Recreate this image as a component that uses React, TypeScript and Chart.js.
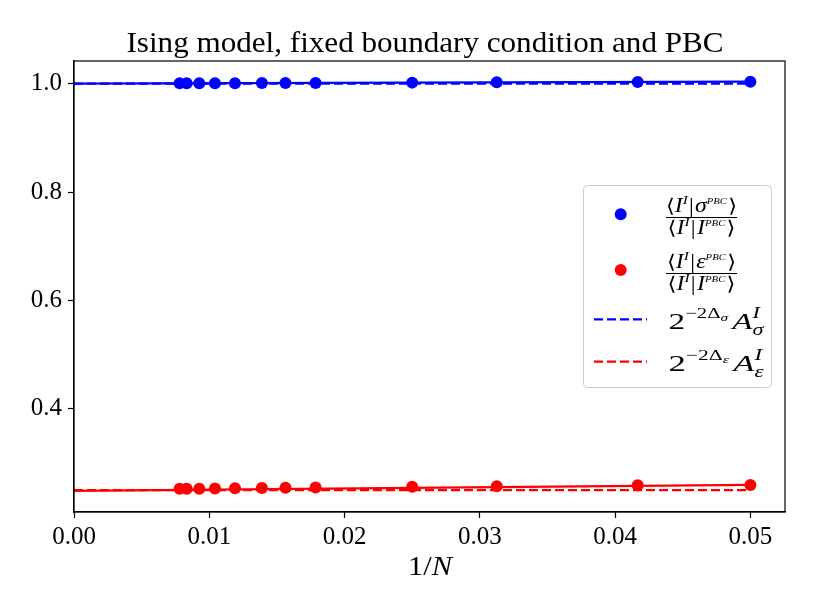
import { useEffect, useRef } from "react";
import Chart from "chart.js/auto";

const FONT = '"Liberation Serif", "DejaVu Serif", "DejaVu Sans", serif';
const BLUE = "#0000ff";
const RED = "#ff0000";

// 1/N for the system sizes in the scan
const invN = [0.05, 0.04167, 0.03125, 0.025, 0.01786, 0.01563, 0.01389, 0.0119, 0.01042, 0.00926, 0.00833, 0.00781];
const sigmaRatio = [1.0038, 1.0032, 1.0025, 1.002, 1.0015, 1.0013, 1.0012, 1.001, 1.0009, 1.0008, 1.0007, 1.0007];
const epsRatio = [0.2597, 0.259, 0.2572, 0.2563, 0.255, 0.2545, 0.2541, 0.2535, 0.2531, 0.2528, 0.2526, 0.2525];

// fits and exact values
const fitX = [0, 0.05];
const sigmaFit = [1.0, 1.0037];
const epsFit = [0.2488, 0.2597];
const sigmaExact = [1.0, 1.0];
const epsExact = [0.25, 0.25];

const xTicks = [0, 0.01, 0.02, 0.03, 0.04, 0.05];
const yTicks = [0.4, 0.6, 0.8, 1.0];

type Run = { t: string; size: number; dy?: number; it?: boolean; over?: boolean; gap?: number };

const runFont = (r: Run) => `${r.it ? "italic " : ""}${r.size}px ${FONT}`;

function layoutRuns(ctx: CanvasRenderingContext2D, runs: Run[]) {
    let cursor = 0;
    let lastStart = 0;
    const pos: number[] = [];
    for (const r of runs) {
        ctx.font = runFont(r);
        const w = ctx.measureText(r.t).width;
        const start = r.over ? lastStart : cursor + (r.gap || 0);
        pos.push(start);
        cursor = r.over ? Math.max(cursor, start + w) : start + w;
        lastStart = start;
    }
    return { pos, width: cursor };
}

// draws runs centred on cx, squeezed or stretched to the target width
function drawRuns(ctx: CanvasRenderingContext2D, runs: Run[], cx: number, baseline: number, targetW?: number) {
    const { pos, width } = layoutRuns(ctx, runs);
    const sx = targetW ? targetW / width : 1;
    ctx.save();
    ctx.translate(cx - (width * sx) / 2, baseline);
    ctx.scale(sx, 1);
    ctx.fillStyle = "#000";
    ctx.textAlign = "left";
    ctx.textBaseline = "alphabetic";
    runs.forEach((r, i) => {
        ctx.font = runFont(r);
        ctx.fillText(r.t, pos[i], r.dy || 0);
    });
    ctx.restore();
}

const bracket = (inner: string, supTop: string): Run[] => [
    { t: "\u27E8", size: 19 },
    { t: "I", size: 20, it: true },
    { t: "I", size: 13, it: true, dy: -8 },
    { t: "|", size: 20, gap: 1 },
    { t: inner, size: 20, it: true, gap: 1 },
    { t: supTop, size: 9, it: true, dy: -8 },
    { t: "\u27E9", size: 19, gap: 1 },
];

const ampLabel = (g: string): Run[] => [
    { t: "2", size: 24 },
    { t: "\u22122\u0394", size: 15, dy: -11 },
    { t: g, size: 11, it: true, dy: -8 },
    { t: "A", size: 24, it: true, gap: 3 },
    { t: "I", size: 16, it: true, dy: -11 },
    { t: g, size: 16, it: true, dy: 6, over: true },
];

const decorPlugin = {
    id: "decor",
    afterDatasetsDraw(chart: Chart) {
        const { ctx, chartArea: a } = chart;
        ctx.save();
        ctx.strokeStyle = "#000";
        ctx.lineWidth = 1.2;
        ctx.strokeRect(a.left, a.top, a.right - a.left, a.bottom - a.top);
        ctx.restore();
    },
    afterDraw(chart: Chart) {
        const ctx = chart.ctx;
        // title
        ctx.save();
        ctx.font = `30px ${FONT}`;
        const title = "Ising model, fixed boundary condition and PBC";
        const tw = ctx.measureText(title).width;
        ctx.translate(425, 52);
        ctx.scale(597 / tw, 1);
        ctx.fillStyle = "#000";
        ctx.textAlign = "center";
        ctx.textBaseline = "alphabetic";
        ctx.fillText(title, 0, 0);
        ctx.restore();

        // axis label
        drawRuns(ctx, [{ t: "1/", size: 28 }, { t: "N", size: 28, it: true }], 430, 575, 44);

        // legend box
        ctx.save();
        ctx.beginPath();
        ctx.roundRect(583.5, 185.5, 188, 202, 4);
        ctx.fillStyle = "rgba(255,255,255,0.8)";
        ctx.fill();
        ctx.strokeStyle = "#cccccc";
        ctx.lineWidth = 1;
        ctx.stroke();

        ctx.fillStyle = BLUE;
        ctx.beginPath();
        ctx.arc(620.7, 214.3, 6, 0, Math.PI * 2);
        ctx.fill();
        ctx.fillStyle = RED;
        ctx.beginPath();
        ctx.arc(620.7, 270, 6, 0, Math.PI * 2);
        ctx.fill();

        ctx.lineWidth = 2.2;
        ctx.setLineDash([9, 4]);
        ctx.strokeStyle = BLUE;
        ctx.beginPath();
        ctx.moveTo(594, 319.3);
        ctx.lineTo(647, 319.3);
        ctx.stroke();
        ctx.strokeStyle = RED;
        ctx.beginPath();
        ctx.moveTo(594, 361.7);
        ctx.lineTo(647, 361.7);
        ctx.stroke();
        ctx.setLineDash([]);

        // fraction bars
        ctx.strokeStyle = "#000";
        ctx.lineWidth = 1;
        ctx.beginPath();
        ctx.moveTo(666, 217.5);
        ctx.lineTo(737, 217.5);
        ctx.moveTo(666, 273.5);
        ctx.lineTo(737, 273.5);
        ctx.stroke();
        ctx.restore();

        drawRuns(ctx, bracket("\u03C3", "PBC"), 701.5, 211.5, 71);
        drawRuns(ctx, bracket("I", "PBC"), 701.5, 234, 68);
        drawRuns(ctx, bracket("\u03B5", "PBC"), 701.5, 267.5, 69);
        drawRuns(ctx, bracket("I", "PBC"), 701.5, 290, 68);

        drawRuns(ctx, ampLabel("\u03C3"), 716, 328.5, 95);
        drawRuns(ctx, ampLabel("\u03B5"), 716, 371, 95);
    },
};

const toXY = (xs: number[], ys: number[]) => xs.map((x, i) => ({ x, y: ys[i] }));

export default function App() {
    const canvasRef = useRef<HTMLCanvasElement | null>(null);

    useEffect(() => {
        if (!canvasRef.current) return;
        const tickFont = { family: FONT, size: 25 };
        const chart = new Chart(canvasRef.current, {
            type: "scatter",
            data: {
                datasets: [
                    { label: "sigma", data: toXY(invN, sigmaRatio), backgroundColor: BLUE, borderColor: BLUE, pointRadius: 6, pointBorderWidth: 0, showLine: false, order: 0 },
                    { label: "eps", data: toXY(invN, epsRatio), backgroundColor: RED, borderColor: RED, pointRadius: 6, pointBorderWidth: 0, showLine: false, order: 0 },
                    { label: "sigma fit", data: toXY(fitX, sigmaFit), borderColor: BLUE, borderWidth: 2.2, pointRadius: 0, showLine: true, order: 1 },
                    { label: "eps fit", data: toXY(fitX, epsFit), borderColor: RED, borderWidth: 2.2, pointRadius: 0, showLine: true, order: 1 },
                    { label: "sigma exact", data: toXY(fitX, sigmaExact), borderColor: BLUE, borderWidth: 2.2, borderDash: [9, 4], pointRadius: 0, showLine: true, order: 2 },
                    { label: "eps exact", data: toXY(fitX, epsExact), borderColor: RED, borderWidth: 2.2, borderDash: [9, 4], pointRadius: 0, showLine: true, order: 2 },
                ],
            },
            options: {
                animation: false,
                responsive: false,
                layout: { padding: { top: 61, right: 29, left: 0, bottom: 0 } },
                plugins: { legend: { display: false }, tooltip: { enabled: false }, title: { display: false } },
                scales: {
                    x: {
                        type: "linear",
                        min: 0,
                        max: 0.05256,
                        afterBuildTicks: (s: any) => { s.ticks = xTicks.map((v) => ({ value: v })); },
                        afterFit: (s: any) => { s.height = 98; },
                        grid: { drawOnChartArea: false, tickLength: 6, tickColor: "#000", tickWidth: 1.2 },
                        border: { color: "#000", width: 1.2 },
                        ticks: { color: "#000", font: tickFont, padding: 4, maxRotation: 0, callback: (v: any) => Number(v).toFixed(2) },
                    },
                    y: {
                        type: "linear",
                        min: 0.2098,
                        max: 1.0419,
                        afterBuildTicks: (s: any) => { s.ticks = yTicks.map((v) => ({ value: v })); },
                        afterFit: (s: any) => { s.width = 74; },
                        grid: { drawOnChartArea: false, tickLength: 6, tickColor: "#000", tickWidth: 1.2 },
                        border: { color: "#000", width: 1.2 },
                        ticks: { color: "#000", font: tickFont, padding: 6, callback: (v: any) => Number(v).toFixed(1) },
                    },
                },
            },
            plugins: [decorPlugin],
        });
        return () => chart.destroy();
    }, []);

    return (
        <div style={{ position: "absolute", left: 0, top: 0, width: 814, height: 610, background: "#fff" }}>
            <canvas ref={canvasRef} width={814} height={610} style={{ width: 814, height: 610 }} />
        </div>
    );
}
